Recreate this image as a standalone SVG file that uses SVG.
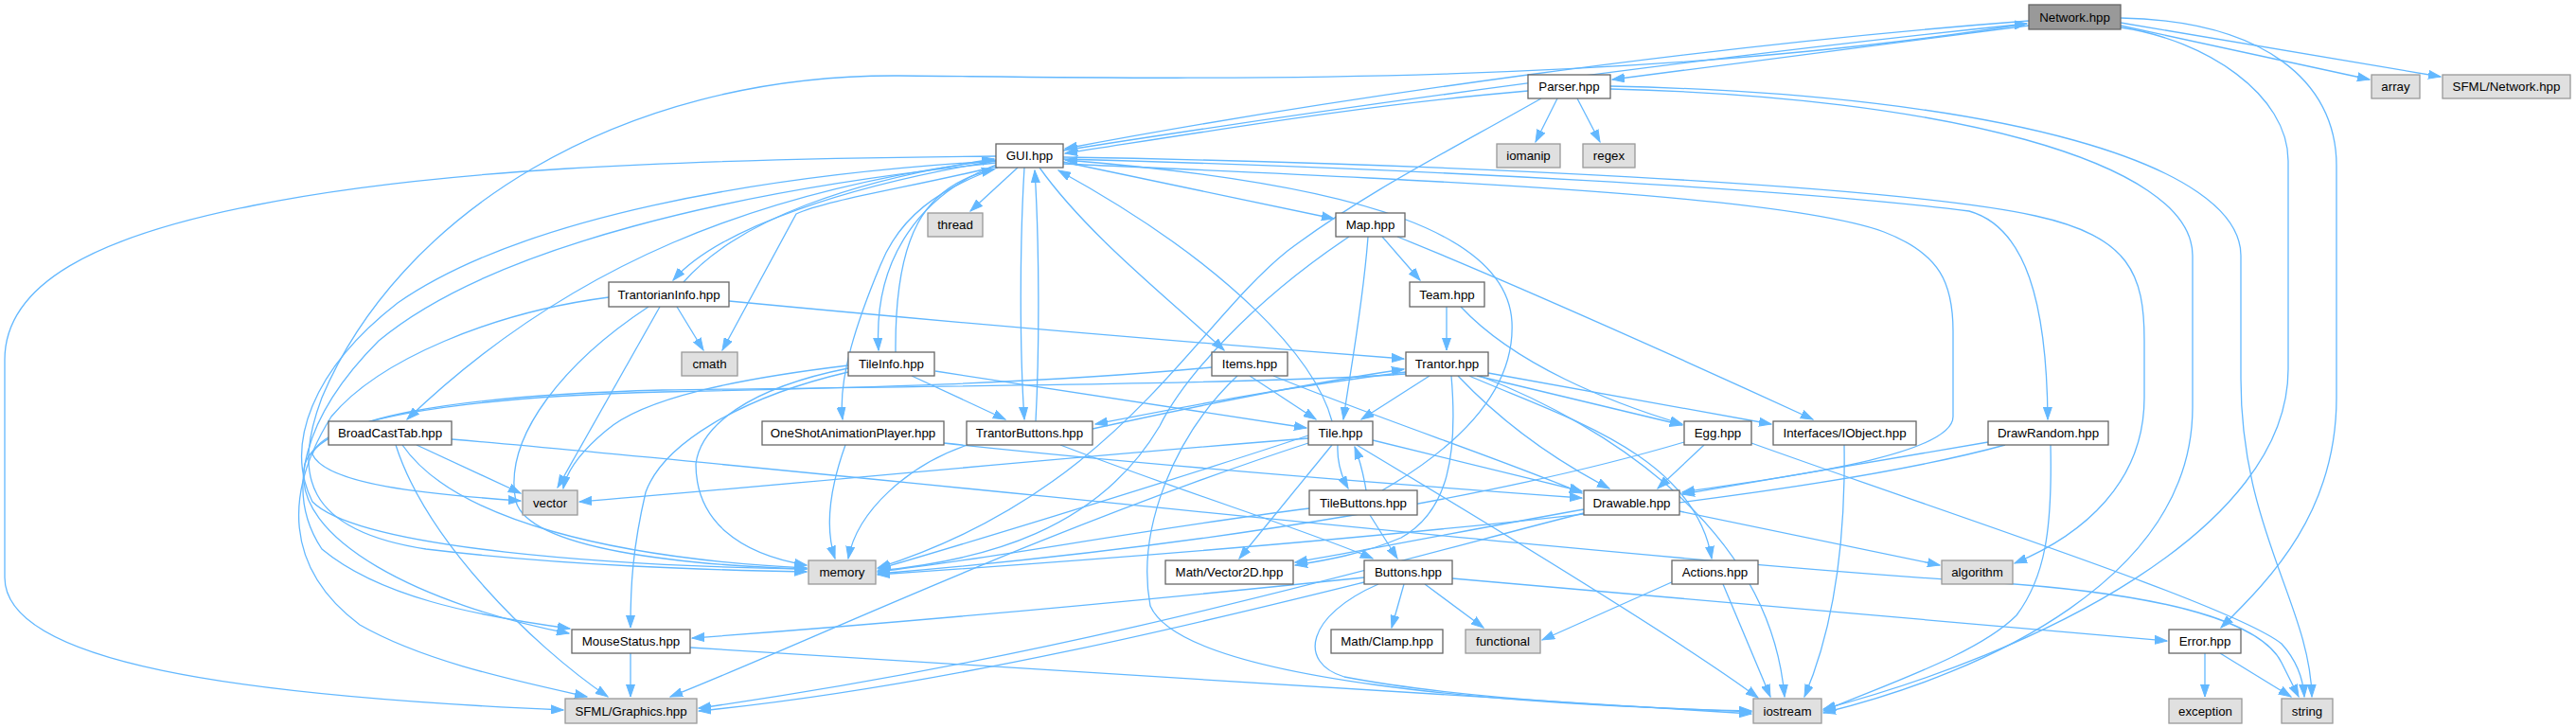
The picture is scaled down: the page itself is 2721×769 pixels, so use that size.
<svg xmlns="http://www.w3.org/2000/svg" width="2721" height="769" viewBox="0 0 2721 769">
<style>
.e{fill:none;stroke:#63b8ff;stroke-width:1.3;marker-end:url(#ah)}
.node rect{fill:#ffffff;stroke:#666666;stroke-width:1.3}
.ext rect{fill:#e0e0e0;stroke:#999999;stroke-width:1.3}
.root rect{fill:#999999;stroke:#666666;stroke-width:1.3}
text{font-family:"Liberation Sans",Arial,sans-serif;font-size:13.3px;fill:#000;text-anchor:middle}
</style>
<defs>
<marker id="ah" markerUnits="userSpaceOnUse" markerWidth="14" markerHeight="10" refX="13" refY="5" orient="auto" viewBox="0 0 14 10">
<path d="M0,0.5 L13,5 L0,9.5 z" fill="#63b8ff" stroke="#63b8ff" stroke-width="1"/>
</marker>
</defs>
<rect x="0" y="0" width="2721" height="769" fill="#ffffff"/>
<g id="edges">
<path class="e" d="M2143,27 L1703,84"/>
<path class="e" d="M2143,22 C1800,48 1400,105 1125,157"/>
<path class="e" d="M1123,159 C1400,115 1800,60 2141,25"/>
<path class="e" d="M1614,96 C1450,110 1300,135 1125,162"/>
<path class="e" d="M2240,27 L2503,84"/>
<path class="e" d="M2240,24 L2578,81"/>
<path class="e" d="M2240,29 C2330,42 2417,100 2417,170 L2417,390 C2417,560 2150,690 1926,749"/>
<path class="e" d="M2240,19 C2390,22 2468,85 2468,175 L2468,420 C2468,540 2400,610 2346,663"/>
<path class="e" d="M2141,25 C1700,95 1200,82 950,80 C650,78 420,230 340,420 C310,500 320,560 450,580 C600,598 750,602 852,604"/>
<path class="e" d="M1645,104 L1622,150"/>
<path class="e" d="M1666,104 L1690,150"/>
<path class="e" d="M1701,94 C2050,102 2316,170 2316,270 L2316,430 C2316,610 2100,710 1926,753"/>
<path class="e" d="M1701,91 C2120,100 2367,175 2367,270 L2367,400 C2367,560 2440,640 2442,736"/>
<path class="e" d="M1628,104 C1520,165 1440,205 1360,265 C1260,345 1180,520 927,600"/>
<path class="e" d="M1123,171 L1409,231"/>
<path class="e" d="M1075,177 L1025,223"/>
<path class="e" d="M1098,177 C1150,250 1240,320 1293,370"/>
<path class="e" d="M1082,177 C1077,260 1077,370 1082,443"/>
<path class="e" d="M1094,445 C1098,370 1098,260 1093,180"/>
<path class="e" d="M1052,174 C975,205 922,270 928,370"/>
<path class="e" d="M946,372 C945,250 975,195 1050,179"/>
<path class="e" d="M1052,170 C900,195 760,240 711,296"/>
<path class="e" d="M722,298 C780,232 900,190 1050,168"/>
<path class="e" d="M1052,176 C960,198 870,212 841,226 L763,370"/>
<path class="e" d="M1054,177 C990,200 950,230 930,280 C905,340 885,400 890,443"/>
<path class="e" d="M1052,169 C800,200 600,280 430,443"/>
<path class="e" d="M1052,165 C700,168 450,180 268,217 C100,250 5,300 5,380 L5,610 C5,700 250,735 595,750"/>
<path class="e" d="M1052,170 C800,185 550,230 420,320 C330,390 300,470 330,530 C380,580 650,598 852,601"/>
<path class="e" d="M1052,172 C780,200 520,260 400,360 C320,440 300,520 340,580 C400,630 500,650 602,664"/>
<path class="e" d="M1123,168 C1500,178 1900,200 2080,223 C2140,240 2162,320 2163,443"/>
<path class="e" d="M1123,166 C1500,172 2000,195 2150,228 C2250,250 2265,290 2265,360 L2265,420 C2265,510 2200,565 2128,595"/>
<path class="e" d="M1123,173 C1500,190 1880,205 1990,245 C2050,268 2063,300 2063,350 L2063,440 C2063,485 1850,508 1777,520"/>
<path class="e" d="M715,324 L743,370"/>
<path class="e" d="M770,318 C1000,340 1300,365 1483,379"/>
<path class="e" d="M685,324 C600,380 530,460 545,530 C560,580 720,597 852,601"/>
<path class="e" d="M697,324 L589,515"/>
<path class="e" d="M643,314 C520,330 400,380 350,440 C300,520 300,600 380,660 C450,700 550,720 620,736"/>
<path class="e" d="M1460,250 L1500,296"/>
<path class="e" d="M1445,250 C1440,320 1425,400 1419,443"/>
<path class="e" d="M1476,250 C1600,300 1800,390 1915,443"/>
<path class="e" d="M1425,250 C1320,320 1250,400 1225,450 C1160,560 1040,592 927,603"/>
<path class="e" d="M1528,324 L1528,370"/>
<path class="e" d="M1543,324 C1600,385 1700,425 1777,448"/>
<path class="e" d="M1510,397 L1438,443"/>
<path class="e" d="M1485,393 C1350,410 1250,430 1157,448"/>
<path class="e" d="M1154,453 C1250,432 1380,405 1483,390"/>
<path class="e" d="M1540,397 C1590,450 1650,490 1700,516"/>
<path class="e" d="M1560,397 L1777,449"/>
<path class="e" d="M1572,394 L1871,448"/>
<path class="e" d="M1563,397 C1700,450 1870,560 1885,736"/>
<path class="e" d="M1552,397 C1650,440 1790,480 1808,590"/>
<path class="e" d="M1533,397 C1540,480 1530,540 1480,568 C1440,585 1400,592 1368,597"/>
<path class="e" d="M1485,395 C1350,405 1000,408 700,412 C480,418 340,440 322,490 C305,570 450,640 601,669"/>
<path class="e" d="M1407,445 C1390,380 1300,280 1118,180"/>
<path class="e" d="M1450,465 L1671,519"/>
<path class="e" d="M1413,470 C1412,490 1418,505 1424,516"/>
<path class="e" d="M1443,518 C1440,500 1436,485 1431,472"/>
<path class="e" d="M1407,470 L1309,590"/>
<path class="e" d="M1433,470 C1600,570 1780,680 1857,737"/>
<path class="e" d="M1382,460 C1200,520 1000,580 928,601"/>
<path class="e" d="M1382,463 C1100,485 800,515 612,530"/>
<path class="e" d="M1382,468 C1100,560 850,680 708,736"/>
<path class="e" d="M1460,518 C1560,460 1600,400 1597,340 C1592,250 1450,195 1125,169"/>
<path class="e" d="M1447,544 L1476,590"/>
<path class="e" d="M1383,537 C1200,560 1050,590 927,604"/>
<path class="e" d="M1320,397 L1390,443"/>
<path class="e" d="M1345,397 C1450,440 1600,490 1671,521"/>
<path class="e" d="M1307,397 C1240,460 1200,560 1215,640 C1250,720 1600,745 1850,751"/>
<path class="e" d="M1280,388 C1100,405 900,410 700,414 C470,420 340,445 330,480 C345,512 450,522 550,529"/>
<path class="e" d="M1800,470 L1751,516"/>
<path class="e" d="M1779,467 C1600,520 1300,575 927,606"/>
<path class="e" d="M1850,468 C2050,540 2360,640 2410,680 C2428,700 2433,720 2434,736"/>
<path class="e" d="M1948,470 C1950,600 1930,680 1906,736"/>
<path class="e" d="M2100,467 L1777,522"/>
<path class="e" d="M2118,470 C1900,530 1400,575 927,607"/>
<path class="e" d="M2166,470 C2168,560 2160,610 2130,650 C2090,690 2000,720 1926,751"/>
<path class="e" d="M1774,540 L2049,597"/>
<path class="e" d="M1673,538 C1550,560 1450,580 1368,594"/>
<path class="e" d="M1673,542 C1500,585 1150,690 738,748"/>
<path class="e" d="M1441,610 C1200,635 950,658 731,674"/>
<path class="e" d="M1483,617 L1470,663"/>
<path class="e" d="M1505,617 L1567,663"/>
<path class="e" d="M1534,611 L2289,677"/>
<path class="e" d="M1456,617 C1380,650 1370,700 1420,715 C1550,740 1750,748 1850,752"/>
<path class="e" d="M1441,615 C1300,650 1000,725 738,751"/>
<path class="e" d="M1768,614 L1629,676"/>
<path class="e" d="M1820,617 L1870,736"/>
<path class="e" d="M2329,690 L2329,736"/>
<path class="e" d="M2345,690 L2420,736"/>
<path class="e" d="M666,690 L666,736"/>
<path class="e" d="M729,684 L1850,754"/>
<path class="e" d="M440,470 L550,521"/>
<path class="e" d="M418,470 C450,570 560,680 642,736"/>
<path class="e" d="M425,470 C480,550 650,590 852,600"/>
<path class="e" d="M477,464 C900,500 1700,590 2100,615 C2300,628 2390,660 2410,700 L2428,736"/>
<path class="e" d="M893,470 C875,520 872,560 882,590"/>
<path class="e" d="M997,468 C1200,490 1450,510 1671,526"/>
<path class="e" d="M1025,469 C960,490 905,540 896,590"/>
<path class="e" d="M1120,470 C1250,520 1380,560 1450,590"/>
<path class="e" d="M963,397 L1062,443"/>
<path class="e" d="M988,392 L1380,452"/>
<path class="e" d="M896,393 C780,420 700,470 682,520 C668,580 666,620 666,663"/>
<path class="e" d="M896,386 C780,400 680,420 640,455 C610,480 598,500 595,516"/>
<path class="e" d="M896,389 C790,410 740,450 735,490 C735,550 780,585 852,597"/>
</g>
<g id="n-network" class="root"><rect x="2143" y="5" width="97" height="26"/><text x="2191.5" y="22.5">Network.hpp</text></g>
<g id="n-parser" class="node"><rect x="1614" y="79" width="87" height="25"/><text x="1657.5" y="96">Parser.hpp</text></g>
<g id="n-array" class="ext"><rect x="2505" y="79" width="51" height="25"/><text x="2530.5" y="96">array</text></g>
<g id="n-sfmlnetwork" class="ext"><rect x="2580" y="79" width="135" height="25"/><text x="2647.5" y="96">SFML/Network.hpp</text></g>
<g id="n-gui" class="node"><rect x="1052" y="152" width="71" height="25"/><text x="1087.5" y="169">GUI.hpp</text></g>
<g id="n-iomanip" class="ext"><rect x="1581" y="152" width="67" height="25"/><text x="1614.5" y="169">iomanip</text></g>
<g id="n-regex" class="ext"><rect x="1672" y="152" width="55" height="25"/><text x="1699.5" y="169">regex</text></g>
<g id="n-thread" class="ext"><rect x="980" y="225" width="58" height="25"/><text x="1009" y="242">thread</text></g>
<g id="n-map" class="node"><rect x="1411" y="225" width="73" height="25"/><text x="1447.5" y="242">Map.hpp</text></g>
<g id="n-trantorianinfo" class="node"><rect x="643" y="298" width="127" height="26"/><text x="706.5" y="315.5">TrantorianInfo.hpp</text></g>
<g id="n-team" class="node"><rect x="1489" y="298" width="79" height="26"/><text x="1528.5" y="315.5">Team.hpp</text></g>
<g id="n-cmath" class="ext"><rect x="720" y="372" width="59" height="25"/><text x="749.5" y="389">cmath</text></g>
<g id="n-tileinfo" class="node"><rect x="896" y="372" width="91" height="25"/><text x="941.5" y="389">TileInfo.hpp</text></g>
<g id="n-items" class="node"><rect x="1280" y="372" width="80" height="25"/><text x="1320" y="389">Items.hpp</text></g>
<g id="n-trantor" class="node"><rect x="1485" y="372" width="87" height="25"/><text x="1528.5" y="389">Trantor.hpp</text></g>
<g id="n-broadcasttab" class="node"><rect x="347" y="445" width="130" height="25"/><text x="412" y="462">BroadCastTab.hpp</text></g>
<g id="n-oneshot" class="node"><rect x="805" y="445" width="192" height="25"/><text x="901" y="462">OneShotAnimationPlayer.hpp</text></g>
<g id="n-trantorbuttons" class="node"><rect x="1021" y="445" width="133" height="25"/><text x="1087.5" y="462">TrantorButtons.hpp</text></g>
<g id="n-tile" class="node"><rect x="1382" y="445" width="68" height="25"/><text x="1416" y="462">Tile.hpp</text></g>
<g id="n-egg" class="node"><rect x="1779" y="445" width="71" height="25"/><text x="1814.5" y="462">Egg.hpp</text></g>
<g id="n-iobject" class="node"><rect x="1873" y="445" width="151" height="25"/><text x="1948.5" y="462">Interfaces/IObject.hpp</text></g>
<g id="n-drawrandom" class="node"><rect x="2100" y="445" width="127" height="25"/><text x="2163.5" y="462">DrawRandom.hpp</text></g>
<g id="n-vector" class="ext"><rect x="552" y="518" width="58" height="26"/><text x="581" y="535.5">vector</text></g>
<g id="n-tilebuttons" class="node"><rect x="1383" y="518" width="114" height="26"/><text x="1440" y="535.5">TileButtons.hpp</text></g>
<g id="n-drawable" class="node"><rect x="1673" y="518" width="101" height="26"/><text x="1723.5" y="535.5">Drawable.hpp</text></g>
<g id="n-memory" class="ext"><rect x="854" y="592" width="71" height="25"/><text x="889.5" y="609">memory</text></g>
<g id="n-vector2d" class="node"><rect x="1231" y="592" width="135" height="25"/><text x="1298.5" y="609">Math/Vector2D.hpp</text></g>
<g id="n-buttons" class="node"><rect x="1441" y="592" width="93" height="25"/><text x="1487.5" y="609">Buttons.hpp</text></g>
<g id="n-actions" class="node"><rect x="1766" y="592" width="91" height="25"/><text x="1811.5" y="609">Actions.hpp</text></g>
<g id="n-algorithm" class="ext"><rect x="2051" y="592" width="75" height="25"/><text x="2088.5" y="609">algorithm</text></g>
<g id="n-mousestatus" class="node"><rect x="604" y="665" width="125" height="25"/><text x="666.5" y="682">MouseStatus.hpp</text></g>
<g id="n-clamp" class="node"><rect x="1406" y="665" width="118" height="25"/><text x="1465" y="682">Math/Clamp.hpp</text></g>
<g id="n-functional" class="ext"><rect x="1548" y="665" width="79" height="25"/><text x="1587.5" y="682">functional</text></g>
<g id="n-error" class="node"><rect x="2291" y="665" width="76" height="25"/><text x="2329" y="682">Error.hpp</text></g>
<g id="n-sfmlgraphics" class="ext"><rect x="597" y="738" width="139" height="26"/><text x="666.5" y="755.5">SFML/Graphics.hpp</text></g>
<g id="n-iostream" class="ext"><rect x="1852" y="738" width="72" height="26"/><text x="1888" y="755.5">iostream</text></g>
<g id="n-exception" class="ext"><rect x="2291" y="738" width="77" height="26"/><text x="2329.5" y="755.5">exception</text></g>
<g id="n-string" class="ext"><rect x="2410" y="738" width="54" height="26"/><text x="2437" y="755.5">string</text></g>
</svg>
